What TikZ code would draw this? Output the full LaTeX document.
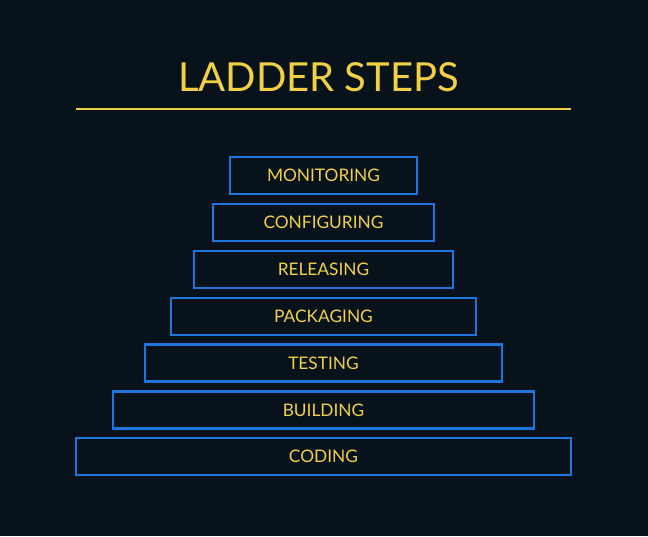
\documentclass[tikz,border=0pt]{standalone}
\usepackage{fontspec}
\setmainfont{Lato}
\definecolor{bg}{HTML}{08121B}
\definecolor{ylw}{HTML}{F2D043}
\definecolor{blu}{HTML}{1C76DE}
\begin{document}
\begin{tikzpicture}[x=1pt,y=-1pt,
  stepbox/.style={draw=blu,line width=2.4pt,inner sep=0pt,text=ylw,
    font=\fontsize{17.3}{19}\selectfont,minimum height=37pt}]
\fill[bg] (0,0) rectangle (648,536);
\useasboundingbox (0,0) rectangle (648,536);
\node[text=ylw,font=\fontsize{40}{44}\selectfont,anchor=base] (title) at (318.5,91.5) {LADDER STEPS};
\coordinate (l1) at (76,109);
\coordinate (l2) at (571,109);
\draw[ylw,line width=2.2pt] (l1) -- (l2);
\node[stepbox,minimum width=187pt] (mon) at (323.5,175.5) {MONITORING};
\node[stepbox,minimum width=221pt] (cfg) at (323.5,222.5) {CONFIGURING};
\node[stepbox,minimum width=259pt] (rel) at (323.5,269.5) {RELEASING};
\node[stepbox,minimum width=305pt] (pkg) at (323.5,316.5) {PACKAGING};
\node[stepbox,minimum width=357pt] (tst) at (323.5,363) {TESTING};
\node[stepbox,minimum width=421pt] (bld) at (323.5,410) {BUILDING};
\node[stepbox,minimum width=495pt] (cod) at (323.5,456.5) {CODING};
\end{tikzpicture}
\end{document}
